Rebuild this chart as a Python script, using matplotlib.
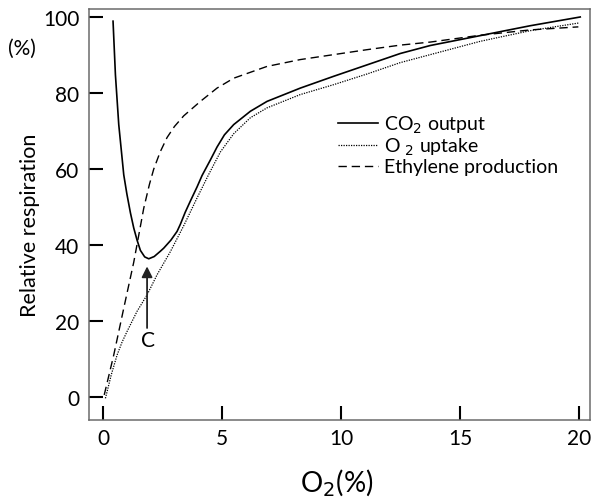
import matplotlib
matplotlib.use("Agg")
import matplotlib.pyplot as plt

plt.rcParams['font.family'] = ['Lato', 'DejaVu Sans']

# values
co2_x = [0.42, 0.52, 0.66, 0.87, 1.0, 1.15, 1.29, 1.43, 1.57, 1.75, 1.92, 2.15, 2.41, 2.55, 2.85,
         3.11, 3.25, 3.45, 3.67, 3.95, 4.16, 4.51, 4.79, 5.1, 5.49, 6.19, 6.89, 8.29, 9.69,
         11.09, 12.49, 13.75, 15.85, 17.95, 20.05]
co2_y = [98.9, 84.8, 71.7, 58.5, 53.5, 48.5, 44.5, 41.3, 38.6, 36.9, 36.4, 37.0, 38.4, 39.2, 41.3,
         43.6, 45.5, 48.6, 51.6, 55.3, 58.3, 62.4, 65.8, 69.0, 71.7, 75.2, 77.8, 81.3, 84.4,
         87.4, 90.4, 92.5, 95.1, 97.7, 100.0]

o2_x = [0.1, 0.35, 0.59, 0.8, 1.01, 1.43, 1.85, 2.27, 2.83, 3.39, 3.95, 4.44, 4.93, 5.49, 6.19,
        6.89, 8.29, 9.69, 11.09, 12.49, 13.75, 15.85, 17.95, 19.97]
o2_y = [-0.3, 6.0, 11.1, 14.5, 17.3, 22.6, 26.9, 32.2, 38.3, 45.1, 52.4, 58.6, 64.5, 69.3, 73.5,
        76.1, 79.6, 82.2, 85.0, 88.0, 90.1, 93.6, 96.4, 98.4]

eth_x = [0.05, 0.45, 0.87, 1.29, 1.71, 1.95, 2.13, 2.4, 2.69, 3.0, 3.39, 4.09, 4.79, 5.49, 6.89,
         8.29, 9.69, 11.09, 12.49, 13.75, 15.85, 17.95, 19.97]
eth_y = [0.6, 11.1, 23.4, 35.5, 49.7, 56.0, 60.0, 64.5, 68.3, 71.2, 74.0, 77.8, 81.3, 83.9, 87.0,
         88.8, 90.1, 91.4, 92.6, 93.4, 95.2, 96.6, 97.4]

labels = ['CO$_2$ output', 'O $_2$ uptake', 'Ethylene production']
x_ticks = [0, 5, 10, 15, 20]
y_ticks = [0, 20, 40, 60, 80, 100]

# point C (minimum of CO2 output)
c_x = 1.85
c_tip, c_tail, c_text = 34.4, 18.2, 15.1

fig = plt.figure(figsize=(5.93, 5.02), dpi=100)
ax = fig.add_axes([89 / 593, 1 - 421 / 502, 501 / 593, 411 / 502])

l1, = ax.plot(co2_x, co2_y, color='black', lw=1.2)
l2, = ax.plot(o2_x, o2_y, color='black', lw=0.9, linestyle=(0, (1, 1)))
l3, = ax.plot(eth_x, eth_y, color='black', lw=1.0, linestyle=(0, (6, 3.5)))

# arrow to C
ax.annotate('', xy=(c_x, c_tip), xytext=(c_x, c_tail),
            arrowprops=dict(arrowstyle='-|>', color='#222222', lw=1.3, mutation_scale=16,
                            shrinkA=0, shrinkB=0))
ax.text(c_x + 0.05, c_text, 'C', ha='center', va='center', fontsize=15)

ax.legend((l1, l2, l3), labels, loc='upper left', bbox_to_anchor=(0.497, 0.745),
          frameon=False, fontsize=14, handlelength=2.05, handletextpad=0.3,
          labelspacing=0.05, borderpad=0, borderaxespad=0)

ax.set_xlim(-0.59, 20.46)
ax.set_ylim(-6, 102.1)
ax.set_xticks(x_ticks)
ax.set_yticks(y_ticks)
ax.tick_params(direction='in', length=10, width=1.5, labelsize=15)
ax.tick_params(axis='x', pad=6)
ax.tick_params(axis='y', pad=7)
for s in ax.spines.values():
    s.set_color('#6b6b6b')
    s.set_linewidth(1.1)

ax.set_ylabel('Relative respiration', fontsize=15.5)
ax.yaxis.set_label_coords(-0.098, 0.477)
ax.set_xlabel('O$_2$(%)', fontsize=20)
ax.xaxis.set_label_coords(0.495, -0.112)
fig.text(0.037, 0.902, '(%)', fontsize=15, ha='center', va='center')

fig.savefig('out.png', dpi=100)
